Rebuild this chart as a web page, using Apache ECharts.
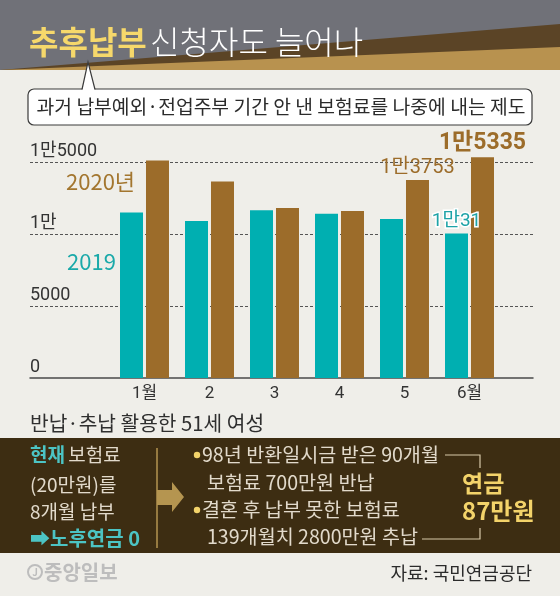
<!DOCTYPE html>
<html>
<head>
<meta charset="utf-8">
<script src="https://cdn.jsdelivr.net/npm/echarts@6/dist/echarts.min.js"></script>
<style>
html, body { margin: 0; padding: 0; background: #efeee9; }
#chart { width: 560px; height: 596px; }
</style>
</head>
<body>
<div id="chart"></div>
<script>
// 추후납부 신청자 (월별)
var months = ['1월', '2', '3', '4', '5', '6월'];
var seriesNames = ['2019', '2020년'];
var applicants2019 = [11500, 10900, 11650, 11400, 11050, 10031];
var applicants2020 = [15100, 13650, 11800, 11600, 13753, 15335];
var labeled2019 = [5];
var labeled2020 = [4, 5];
var yTicks = [0, 5000, 10000, 15000];
var yTickLabels = ['0', '5000', '1만', '1만5000'];

var FONT = 'Roboto, "Noto Sans CJK KR", sans-serif';
var KFONT = '"Noto Sans CJK KR", sans-serif';

var teal = '#00afb1';
var brown = '#9c6c2a';

function manFormat(p) {
    var v = p.value;
    return Math.floor(v / 10000) + '만' + (v % 10000);
}

function barData(values, labeled, big) {
    return values.map(function (v, i) {
        var item = { value: v, label: { show: labeled.indexOf(i) >= 0 } };
        if (big && i === values.length - 1) {
            item.label.fontSize = 23;
            item.label.fontWeight = 'bold';
        }
        return item;
    });
}

function txt(x, y, text, size, color, weight, align) {
    return {
        type: 'text', x: x, y: y, z: 10,
        style: {
            text: text, fill: color, fontSize: size, fontFamily: KFONT,
            fontWeight: weight || 'normal', textAlign: align || 'left', textVerticalAlign: 'middle'
        }
    };
}

var myChart = echarts.init(document.getElementById('chart'));

var lightText = '#e2dacb';
var tealText = '#4cc4c4';
var yellow = '#f3d36a';
var tan = '#b59550';

var graphics = [
    // header
    { type: 'rect', shape: { x: 0, y: 0, width: 560, height: 70 }, style: { fill: '#707178' } },
    { type: 'polygon', shape: { points: [[0, 70], [560, 24], [560, 70]] }, style: { fill: '#5b4426' } },
    { type: 'polygon', shape: { points: [[0, 70], [560, 47], [560, 70]] }, style: { fill: '#b8924f' } },
    {
        type: 'text', x: 29, y: 42, z: 10,
        style: {
            text: '{a|추후납부} {b|신청자도 늘어나}', textVerticalAlign: 'middle',
            rich: {
                a: { fill: '#f6d86b', fontSize: 32, fontWeight: 'bold', fontFamily: KFONT },
                b: { fill: '#ffffff', fontSize: 32, fontWeight: 300, fontFamily: KFONT }
            }
        }
    },
    // callout
    { type: 'rect', shape: { x: 28, y: 89, width: 504, height: 36, r: 6 }, style: { fill: '#fff', stroke: '#3a3a3a', lineWidth: 1.2 } },
    { type: 'polygon', shape: { points: [[82, 90], [88, 62], [95, 90]] }, style: { fill: '#fff' } },
    { type: 'polyline', shape: { points: [[82, 89.5], [88, 62], [95, 89.5]] }, style: { stroke: '#3a3a3a', lineWidth: 1.2, fill: null } },
    txt(281, 107, '과거 납부예외·전업주부 기간 안 낸 보험료를 나중에 내는 제도', 19.3, '#2b2b2b', 'normal', 'center'),
    // series names
    txt(66, 182, seriesNames[1], 22, '#a3762f'),
    txt(67, 262, seriesNames[0], 22, '#1aa9a9'),
    // subtitle
    txt(30, 423, '반납·추납 활용한 51세 여성', 20.3, '#2f2f2f'),
    // dark box
    { type: 'rect', shape: { x: 0, y: 438, width: 560, height: 115 }, style: { fill: '#3d2d12' } },
    {
        type: 'text', x: 30, y: 455, z: 10,
        style: {
            text: '{a|현재} {b|보험료}', textVerticalAlign: 'middle',
            rich: {
                a: { fill: tealText, fontSize: 19, fontWeight: 'bold', fontFamily: KFONT },
                b: { fill: lightText, fontSize: 19, fontFamily: KFONT }
            }
        }
    },
    txt(30, 485, '(20만원)를', 19, lightText),
    txt(30, 512, '8개월 납부', 19, lightText),
    txt(30, 538, '➡노후연금 0', 20, tealText, 'bold'),
    { type: 'line', shape: { x1: 157, y1: 448, x2: 157, y2: 548 }, style: { stroke: tan, lineWidth: 1.5 } },
    { type: 'polygon', shape: { points: [[157, 490], [172, 490], [172, 482], [184, 497], [172, 512], [172, 505], [157, 505]] }, style: { fill: tan } },
    { type: 'circle', shape: { cx: 197, cy: 455, r: 3.2 }, style: { fill: yellow } },
    { type: 'circle', shape: { cx: 197, cy: 510, r: 3.2 }, style: { fill: yellow } },
    txt(202, 455, '98년 반환일시금 받은 90개월', 19.6, lightText),
    txt(207, 483, '보험료 700만원 반납', 19.6, lightText),
    txt(202, 510, '결혼 후 납부 못한 보험료', 19.6, lightText),
    txt(207, 537, '139개월치 2800만원 추납', 19.6, lightText),
    { type: 'polyline', shape: { points: [[445, 455], [480, 455], [480, 468]] }, style: { stroke: '#d8c9a8', lineWidth: 1.2, fill: null } },
    { type: 'polyline', shape: { points: [[422, 539], [480, 539], [480, 528]] }, style: { stroke: '#d8c9a8', lineWidth: 1.2, fill: null } },
    txt(462, 483, '연금', 23, yellow, 'bold'),
    txt(462, 511, '87만원', 24, yellow, 'bold'),
    // footer
    { type: 'circle', shape: { cx: 35, cy: 572, r: 7 }, style: { fill: null, stroke: '#bdbdbd', lineWidth: 2 } },
    txt(35, 572, 'J', 10, '#bdbdbd', 'bold', 'center'),
    txt(44, 572, '중앙일보', 20, '#bdbdbd', 'bold'),
    txt(532, 573, '자료: 국민연금공단', 18, '#2b2b2b', 'normal', 'right')
];

var option = {
    backgroundColor: '#efeee9',
    animation: false,
    grid: [
        { left: 30, right: 27, top: 90, bottom: 218 },
        { left: 112, right: 58, top: 90, bottom: 218 }
    ],
    xAxis: [
        {
            gridIndex: 0, type: 'value', min: 0, max: 1,
            axisLine: { show: true, onZero: false, lineStyle: { color: '#4a4a4a', width: 1.5 } },
            axisTick: { show: false }, axisLabel: { show: false }, splitLine: { show: false }
        },
        {
            gridIndex: 1, type: 'category', data: months,
            axisLine: { show: false }, axisTick: { show: false },
            axisLabel: { margin: 7, fontSize: 17, color: '#333', fontFamily: FONT }
        }
    ],
    yAxis: [
        {
            gridIndex: 0, type: 'value', min: 0, max: 20000, interval: 5000,
            axisLine: { show: false }, axisTick: { show: false },
            splitLine: { show: true, showMinLine: false, showMaxLine: false, lineStyle: { type: [3, 2], color: '#555', width: 1 } },
            axisLabel: {
                inside: true, margin: 0, verticalAlign: 'bottom', padding: [0, 0, 2, 0],
                showMaxLabel: false, fontSize: 18, color: '#333', fontFamily: FONT,
                formatter: function (v) {
                    var i = yTicks.indexOf(v);
                    return i < 0 ? '' : yTickLabels[i];
                }
            }
        },
        { gridIndex: 1, type: 'value', min: 0, max: 20000, show: false }
    ],
    series: [
        {
            name: seriesNames[0], type: 'bar', xAxisIndex: 1, yAxisIndex: 1,
            barWidth: 23, barGap: '13%',
            itemStyle: { color: teal },
            label: {
                position: 'top', distance: 3, color: '#1ea3a7', fontSize: 19, fontFamily: FONT,
                textBorderColor: '#fff', textBorderWidth: 3, formatter: manFormat
            },
            data: barData(applicants2019, labeled2019, false)
        },
        {
            name: seriesNames[1], type: 'bar', xAxisIndex: 1, yAxisIndex: 1,
            barWidth: 23, barGap: '13%',
            itemStyle: { color: brown },
            label: {
                position: 'top', distance: 2, color: '#9c6c2a', fontSize: 20, fontFamily: FONT,
                formatter: manFormat
            },
            data: barData(applicants2020, labeled2020, true)
        }
    ],
    graphic: { elements: graphics }
};

myChart.setOption(option);
</script>
</body>
</html>
